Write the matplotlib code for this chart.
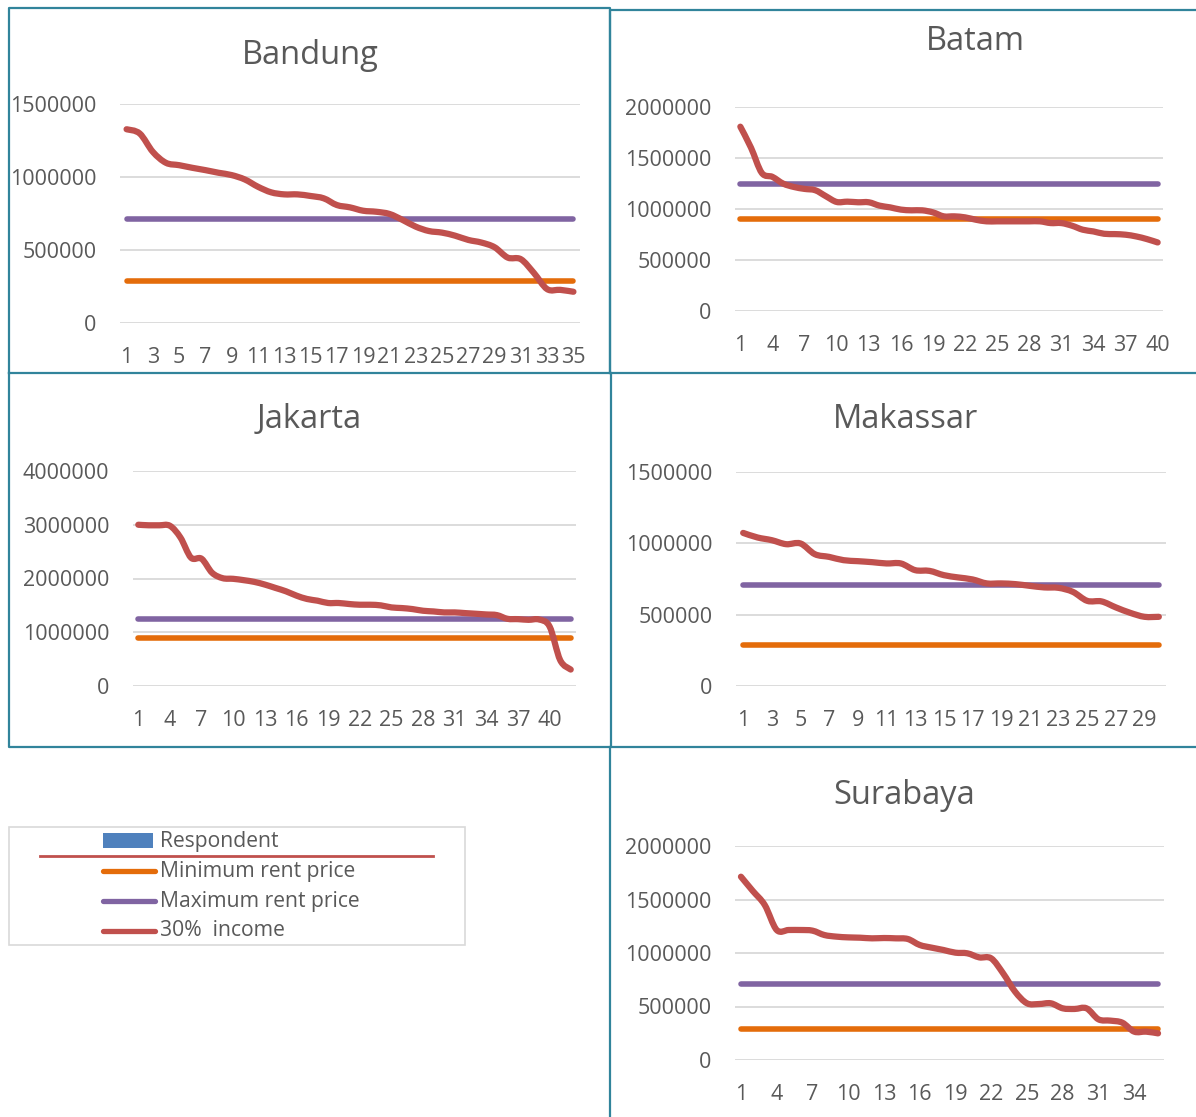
import matplotlib
matplotlib.use("Agg")
import matplotlib.pyplot as plt
from matplotlib.path import Path
from matplotlib.patches import PathPatch, Rectangle

plt.rcParams['font.family'] = ['Open Sans', 'DejaVu Sans']

W, H = 1196, 1117

# ---------------- data ----------------
bandung_income = [1327000, 1298000, 1172000, 1097000, 1081000, 1063000, 1047000, 1029000, 1013000, 983000,
                  933000, 895000, 881000, 881000, 870000, 854000, 808000, 792000, 769000, 762000,
                  747000, 706000, 660000, 630000, 619000, 598000, 569000, 551000, 519000, 448000,
                  437000, 342000, 232000, 227000, 214000]
batam_income = [1807000, 1600000, 1354000, 1315000, 1249000, 1216000, 1197000, 1184000, 1125000, 1069000,
                1072000, 1066000, 1066000, 1033000, 1016000, 994000, 987000, 987000, 967000, 928000,
                928000, 918000, 895000, 879000, 879000, 879000, 879000, 879000, 879000, 862000,
                862000, 836000, 797000, 780000, 757000, 754000, 748000, 731000, 705000, 672000]
jakarta_income = [3000000, 2990000, 2990000, 2981000, 2762000, 2387000, 2368000, 2106000, 2006000, 1994000,
                  1969000, 1937000, 1887000, 1825000, 1762000, 1681000, 1619000, 1587000, 1544000, 1544000,
                  1525000, 1512000, 1512000, 1500000, 1462000, 1450000, 1431000, 1400000, 1387000, 1369000,
                  1369000, 1356000, 1344000, 1331000, 1319000, 1250000, 1244000, 1231000, 1237000, 1106000,
                  481000, 306000]
makassar_income = [1073000, 1041000, 1022000, 994000, 999000, 924000, 905000, 882000, 875000, 868000,
                   859000, 859000, 812000, 807000, 777000, 761000, 747000, 719000, 719000, 714000,
                   702000, 691000, 688000, 660000, 597000, 593000, 551000, 513000, 485000, 485000]
surabaya_income = [1713000, 1579000, 1448000, 1215000, 1215000, 1215000, 1209000, 1168000, 1153000, 1146000,
                   1143000, 1137000, 1140000, 1137000, 1131000, 1075000, 1050000, 1028000, 1003000, 997000,
                   959000, 950000, 810000, 639000, 530000, 523000, 530000, 483000, 477000, 483000,
                   380000, 368000, 349000, 265000, 265000, 249000]

cities = ["Bandung", "Batam", "Jakarta", "Makassar", "Surabaya"]
min_rent = {"Bandung": 290000, "Batam": 900000, "Jakarta": 900000, "Makassar": 290000, "Surabaya": 290000}
max_rent = {"Bandung": 710000, "Batam": 1250000, "Jakarta": 1250000, "Makassar": 710000, "Surabaya": 710000}
income = {"Bandung": bandung_income, "Batam": batam_income, "Jakarta": jakarta_income,
          "Makassar": makassar_income, "Surabaya": surabaya_income}
y_max = {"Bandung": 1500000, "Batam": 2000000, "Jakarta": 4000000, "Makassar": 1500000, "Surabaya": 2000000}
y_step = {"Bandung": 500000, "Batam": 500000, "Jakarta": 1000000, "Makassar": 500000, "Surabaya": 500000}
x_step = {"Bandung": 2, "Batam": 3, "Jakarta": 3, "Makassar": 2, "Surabaya": 3}

legend_labels = ["Respondent", "Minimum rent price", "Maximum rent price", "30%  income"]

# ---------------- layout (pixels) ----------------
plot_box = {  # x0, y0(top), x1, y1(bottom)
    "Bandung": (120, 104, 580, 323),
    "Batam": (735, 107, 1163, 311),
    "Jakarta": (133, 471, 576, 686),
    "Makassar": (736, 472, 1166, 686),
    "Surabaya": (735, 846, 1164, 1060),
}
title_pos = {"Bandung": (310, 55), "Batam": (975, 41), "Jakarta": (309, 419),
             "Makassar": (905, 420), "Surabaya": (904, 795)}

C_MIN = "#E46C0A"
C_MAX = "#8064A2"
C_INC = "#C0504D"
C_BAR = "#4F81BD"
C_GRID = "#D9D9D9"
C_TXT = "#595959"
C_BORDER = "#31849B"


def frac(x0, y0, x1, y1):
    return [x0 / W, 1 - y1 / H, (x1 - x0) / W, (y1 - y0) / H]


def smooth_path(x, y):
    n = len(x)
    verts = [(x[0], y[0])]
    codes = [Path.MOVETO]
    for i in range(n - 1):
        p0 = i - 1 if i > 0 else i
        p3 = i + 2 if i + 2 < n else i + 1
        c1 = (x[i] + (x[i + 1] - x[p0]) / 6, y[i] + (y[i + 1] - y[p0]) / 6)
        c2 = (x[i + 1] - (x[p3] - x[i]) / 6, y[i + 1] - (y[p3] - y[i]) / 6)
        verts += [c1, c2, (x[i + 1], y[i + 1])]
        codes += [Path.CURVE4] * 3
    return Path(verts, codes)


fig = plt.figure(figsize=(W / 100, H / 100), dpi=100)

# background overlay for borders and legend (pixel coordinates)
bg = fig.add_axes([0, 0, 1, 1], zorder=0)
bg.set_xlim(0, W)
bg.set_ylim(H, 0)
bg.axis("off")

border_lw = 1.6
bg.plot([9, 9, 610, 610, 9], [373, 8, 8, 373, 373], color=C_BORDER, lw=border_lw)
bg.plot([610, 610, 1196], [373, 10, 10], color=C_BORDER, lw=border_lw)
bg.plot([610, 1196], [373, 373], color=C_BORDER, lw=border_lw)
bg.plot([9, 9, 611, 611], [373, 747, 747, 373], color=C_BORDER, lw=border_lw)
bg.plot([611, 1196], [747, 747], color=C_BORDER, lw=border_lw)
bg.plot([610, 610], [747, 1117], color=C_BORDER, lw=border_lw)

# legend
bg.add_patch(Rectangle((9, 827), 456, 118, fill=False, edgecolor="#D9D9D9", lw=1.2))
bg.add_patch(Rectangle((103, 833), 50, 15, facecolor=C_BAR, edgecolor="none"))
bg.plot([40, 433], [856, 856], color=C_INC, lw=2.0)
leg_colors = [C_MIN, C_MAX, C_INC]
leg_y = [871, 901, 931]
for c, yy in zip(leg_colors, leg_y):
    bg.plot([103, 155], [yy, yy], color=c, lw=3.8, solid_capstyle="round")
for lab, yy in zip(legend_labels, [841, 871, 901, 931]):
    bg.text(160, yy, lab, fontsize=15.2, color=C_TXT, va="center", ha="left")

for city in cities:
    x0, y0, x1, y1 = plot_box[city]
    ax = fig.add_axes(frac(x0, y0, x1, y1), zorder=2)
    vals = income[city]
    n = len(vals)
    xs = list(range(1, n + 1))
    ax.plot(xs, [min_rent[city]] * n, color=C_MIN, lw=4.0, solid_capstyle="round", zorder=3)
    ax.plot(xs, [max_rent[city]] * n, color=C_MAX, lw=4.0, solid_capstyle="round", zorder=4)
    ax.add_patch(PathPatch(smooth_path(xs, vals), fill=False, edgecolor=C_INC, lw=4.5,
                           capstyle="round", joinstyle="round", zorder=5))
    ax.set_xlim(0.5, n + 0.5)
    ax.set_ylim(0, y_max[city])
    yt = list(range(0, y_max[city] + 1, y_step[city]))
    ax.set_yticks(yt)
    ax.set_yticklabels([str(v) for v in yt])
    xt = list(range(1, n + 1, x_step[city]))
    ax.set_xticks(xt)
    ax.set_xticklabels([str(v) for v in xt])
    for v in yt:
        ax.axhline(v, color=C_GRID, lw=1.3, zorder=1)
    for s in ax.spines.values():
        s.set_visible(False)
    ax.tick_params(axis="both", length=0, labelsize=15.5, labelcolor=C_TXT)
    ax.tick_params(axis="y", pad=17)
    ax.tick_params(axis="x", pad=17.5)
    ax.patch.set_alpha(0)
    tx, ty = title_pos[city]
    fig.text(tx / W, 1 - ty / H, city, fontsize=23.5, color=C_TXT, ha="center", va="center")

fig.savefig("out.png", dpi=100)
